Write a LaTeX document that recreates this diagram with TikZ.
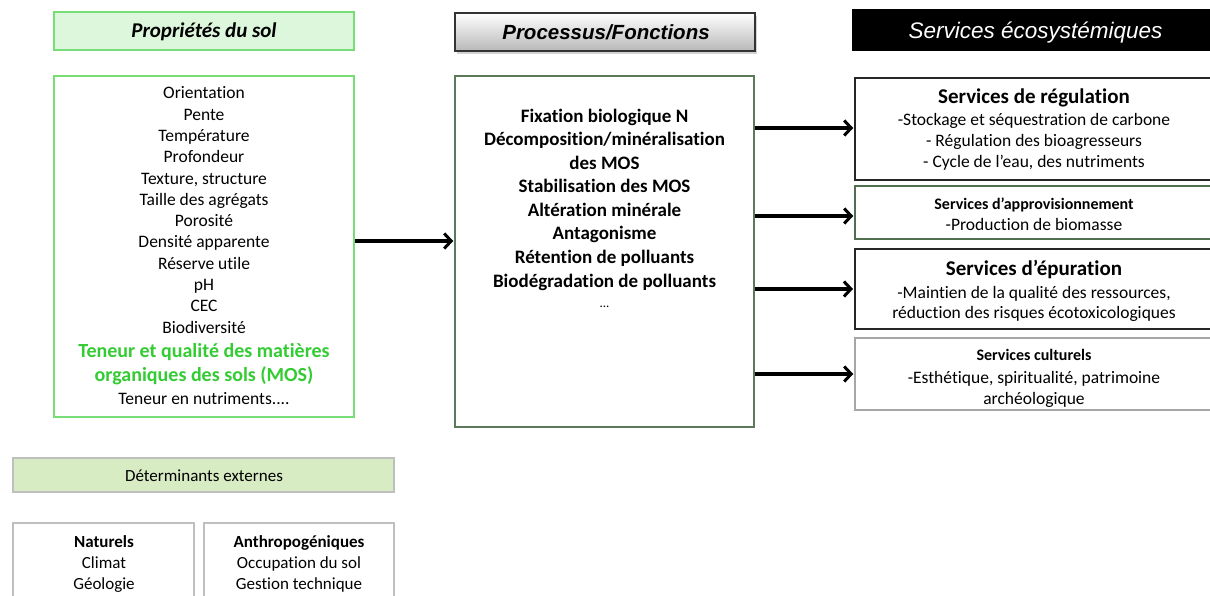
\documentclass[tikz,border=0pt]{standalone}
\usepackage{fontspec}
\setmainfont{Carlito}[Ligatures=NoCommon]
\newfontfamily\arialf{Liberation Sans}
\usetikzlibrary{arrows.meta,shadows}
\definecolor{lgreen}{HTML}{77DD77}
\definecolor{hgreen}{HTML}{DCF7DC}
\definecolor{tgreen}{HTML}{33CC33}
\definecolor{mborder}{HTML}{5A7A5A}
\definecolor{dfill}{HTML}{D7ECC3}
\definecolor{gborder}{HTML}{BFBFBF}
\definecolor{cborder}{HTML}{A6A6A6}
\definecolor{aborder}{HTML}{4F6F4F}
\begin{document}
\begin{tikzpicture}[x=1pt,y=-1pt,
  box/.style={draw, rectangle, inner sep=0pt, line width=1.5pt, fill=white},
  ln/.style={anchor=base, inner sep=0pt},
  arr/.style={line width=3.2pt, -{Straight Barb[length=7pt,width=15pt,line width=3pt]}},
  fn/.style={font=\fontsize{17.5}{21}\selectfont},
  fb/.style={font=\fontsize{19}{23}\selectfont\bfseries},
]
\useasboundingbox (0,0) rectangle (1210,596);

% headers
\node[box, draw=lgreen, fill=hgreen, minimum width=300pt, minimum height=38pt] (h1) at (204,31) {};
\node[ln, font=\fontsize{21}{24}\selectfont\bfseries\itshape] (h1t) at (204,38) {Propriétés du sol};
\node[box, draw=black!80, top color=white, bottom color=black!28, line width=1.5pt,
      drop shadow={shadow xshift=1.5pt, shadow yshift=-3pt, opacity=0.35},
      minimum width=300pt, minimum height=38pt] (h2) at (605,32) {};
\node[ln, font=\fontsize{20.5}{24}\arialf\bfseries\itshape] (h2t) at (606,40) {Processus/Fonctions};
\node[box, draw=black, fill=black, minimum width=360pt, minimum height=40pt] (h3) at (1033,30) {};
\node[ln, text=white, font=\fontsize{22.5}{24}\arialf\itshape] (h3t) at (1035.5,38.5) {Services écosystémiques};

% main boxes
\node[box, draw=lgreen, minimum width=300pt, minimum height=341pt] (soil) at (204,246.5) {};
\node[box, draw=mborder, minimum width=299pt, minimum height=351pt] (mid) at (604.5,251.5) {};
\node[box, draw=black!85, minimum width=356pt, minimum height=102pt] (reg) at (1033,129) {};
\node[box, draw=aborder, minimum width=356pt, minimum height=53pt] (appro) at (1033,212.5) {};
\node[box, draw=black!85, line width=2pt, minimum width=356pt, minimum height=80pt] (epur) at (1033,289) {};
\node[box, draw=cborder, minimum width=356pt, minimum height=72pt] (cult) at (1033,374) {};

% bottom boxes
\node[box, draw=gborder, fill=dfill, minimum width=381pt, minimum height=34pt] (det) at (203.5,475) {};
\node[ln, font=\fontsize{17}{20}\selectfont] (dett) at (204,481) {Déterminants externes};
\node[box, draw=gborder, minimum width=181pt, minimum height=90pt] (nat) at (103.5,568) {};
\node[box, draw=gborder, minimum width=190pt, minimum height=90pt] (anth) at (299,568) {};

% left text
\foreach \t/\y [count=\i] in {Orientation/99,Pente/120.3,Température/141.5,Profondeur/162.8,{Texture, structure}/184.1,Taille des agrégats/205.4,Porosité/226.6,Densité apparente/247.9,Réserve utile/269.2,pH/290.5,CEC/311.7,Biodiversité/333}
  \node[ln, fn] (s\i) at (204,\y) {\t};
\node[ln, font=\fontsize{20}{24}\selectfont\bfseries, text=tgreen] (s13) at (204,357) {Teneur et qualité des matières};
\node[ln, font=\fontsize{20}{24}\selectfont\bfseries, text=tgreen] (s14) at (204,381) {organiques des sols (MOS)};
\node[ln, fn] (s15) at (204,404) {Teneur en nutriments....};

% middle text
\foreach \t/\y [count=\i] in {Fixation biologique N/122.5,{Décomposition/minéralisation}/146,des MOS/169.5,Stabilisation des MOS/193,Altération minérale/216.5,Antagonisme/240,Rétention de polluants/263.5,Biodégradation de polluants/287}
  \node[ln, fb] (m\i) at (604.5,\y) {\t};
\node[ln, font=\fontsize{13}{16}\selectfont] (m9) at (604.5,307) {...};

% right text
\node[ln, font=\fontsize{21}{24}\selectfont\bfseries] (r1) at (1034,104) {Services de régulation};
\node[ln, fn] (r2) at (1034,126) {-Stockage et séquestration de carbone};
\node[ln, fn] (r3) at (1034,147) {- Régulation des bioagresseurs};
\node[ln, fn] (r4) at (1034,168) {- Cycle de l’eau, des nutriments};
\node[ln, font=\fontsize{16}{20}\selectfont\bfseries] (a1) at (1034,209.5) {Services d’approvisionnement};
\node[ln, fn] (a2) at (1034,231) {-Production de biomasse};
\node[ln, font=\fontsize{21}{24}\selectfont\bfseries] (e1) at (1034,275.5) {Services d’épuration};
\node[ln, fn] (e2) at (1034,298) {-Maintien de la qualité des ressources,};
\node[ln, fn] (e3) at (1034,318.5) {réduction des risques écotoxicologiques};
\node[ln, font=\fontsize{16}{20}\selectfont\bfseries] (c1) at (1034,360.5) {Services culturels};
\node[ln, fn] (c2) at (1034,383) {-Esthétique, spiritualité, patrimoine};
\node[ln, fn] (c3) at (1034,404) {archéologique};

% bottom text
\node[ln, font=\fontsize{17}{20}\selectfont\bfseries] (n1) at (104,547) {Naturels};
\node[ln, font=\fontsize{17}{20}\selectfont] (n2) at (104,568) {Climat};
\node[ln, font=\fontsize{17}{20}\selectfont] (n3) at (104,589) {Géologie};
\node[ln, font=\fontsize{17}{20}\selectfont\bfseries] (p1) at (299,547) {Anthropogéniques};
\node[ln, font=\fontsize{17}{20}\selectfont] (p2) at (299,568) {Occupation du sol};
\node[ln, font=\fontsize{17}{20}\selectfont] (p3) at (299,589) {Gestion technique};

% arrows
\draw[arr] ([yshift=5.5pt]soil.east) coordinate (a0) -- ([xshift=-1pt]a0 -| mid.west);
\draw[arr] ([yshift=1pt]mid.east |- reg.west) coordinate (b1) -- ([xshift=-1pt]b1 -| reg.west);
\draw[arr] ([yshift=-3.5pt]mid.east |- appro.west) coordinate (b2) -- ([xshift=-1pt]b2 -| appro.west);
\draw[arr] (mid.east |- epur.west) -- ([xshift=-1pt]epur.west);
\draw[arr] (mid.east |- cult.west) -- ([xshift=-1pt]cult.west);
\end{tikzpicture}
\end{document}
